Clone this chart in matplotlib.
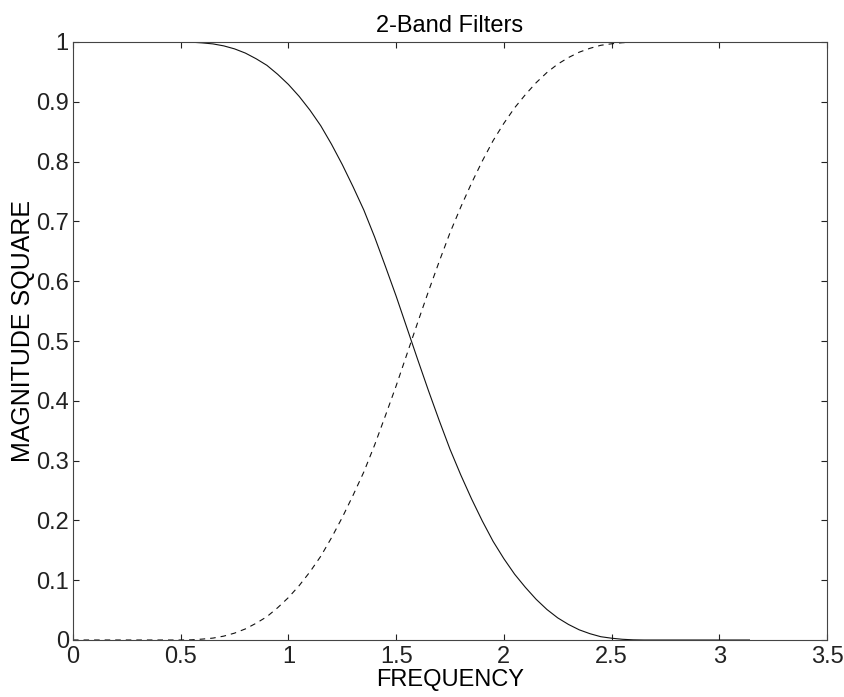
import matplotlib
matplotlib.use("Agg")
import matplotlib.pyplot as plt

plt.rcParams['font.family'] = ['Liberation Sans', 'DejaVu Sans']

# frequency samples (rad)
freq = [0.0, 0.50, 0.55, 0.60, 0.65, 0.70, 0.75, 0.80, 0.85, 0.90, 0.95,
        1.00, 1.05, 1.10, 1.15, 1.20, 1.25, 1.30, 1.35, 1.40, 1.45,
        1.50, 1.55, 1.60, 1.65, 1.70, 1.75, 1.80, 1.85, 1.90, 1.95,
        2.00, 2.05, 2.10, 2.15, 2.20, 2.25, 2.30, 2.35, 2.40, 2.45,
        2.50, 2.55, 2.60, 2.65, 3.14]

# lowpass band (solid)
low_band = [1.0, 1.0, 0.9997, 0.9985, 0.9968, 0.9935, 0.9885, 0.9815, 0.972, 0.961, 0.946,
            0.929, 0.909, 0.886, 0.860, 0.829, 0.795, 0.758, 0.719, 0.674, 0.625,
            0.575, 0.522, 0.469, 0.417, 0.367, 0.319, 0.276, 0.236, 0.199, 0.165,
            0.136, 0.110, 0.088, 0.068, 0.051, 0.037, 0.026, 0.017, 0.0105, 0.0055,
            0.003, 0.0012, 0.0003, 0.0, 0.0]

# highpass band (dashed)
high_band = [0.0, 0.0, 0.0003, 0.0015, 0.0032, 0.0065, 0.0115, 0.0185, 0.028, 0.039, 0.054,
             0.071, 0.091, 0.114, 0.140, 0.171, 0.205, 0.242, 0.281, 0.326, 0.375,
             0.425, 0.478, 0.531, 0.583, 0.633, 0.681, 0.724, 0.764, 0.801, 0.835,
             0.864, 0.890, 0.912, 0.932, 0.949, 0.963, 0.974, 0.983, 0.9895, 0.9945,
             0.997, 0.9988, 0.9997, 1.0, 1.0]

xticks = [0, 0.5, 1, 1.5, 2, 2.5, 3, 3.5]
xtick_labels = ['0', '0.5', '1', '1.5', '2', '2.5', '3', '3.5']
yticks = [0, 0.1, 0.2, 0.3, 0.4, 0.5, 0.6, 0.7, 0.8, 0.9, 1]
ytick_labels = ['0', '0.1', '0.2', '0.3', '0.4', '0.5', '0.6', '0.7', '0.8', '0.9', '1']

fig = plt.figure(figsize=(8.44, 6.97), dpi=100)
ax = fig.add_axes([73 / 844, 57 / 697, 754 / 844, 598 / 697])

ax.plot(freq, low_band, color='#111111', lw=0.8)
ax.plot(freq, high_band, color='#111111', lw=0.8, linestyle=(0, (5, 4.5)))

ax.set_xlim(0, 3.5)
ax.set_ylim(0, 1)
ax.set_xticks(xticks)
ax.set_xticklabels(xtick_labels)
ax.set_yticks(yticks)
ax.set_yticklabels(ytick_labels)
ax.tick_params(direction='in', length=4, width=0.8, top=True, right=True,
               labelsize=17, colors='#222222', pad=3)
ax.tick_params(axis='x', pad=4)
for sp in ax.spines.values():
    sp.set_linewidth(0.8)
    sp.set_color('#444444')

ax.set_title('2-Band Filters', fontsize=17, pad=7)
ax.set_xlabel('FREQUENCY', fontsize=17, labelpad=1)
ax.set_ylabel('MAGNITUDE SQUARE', fontsize=18)
# reference label sits a little above the middle
ax.yaxis.set_label_coords(-0.05, 0.517)

fig.savefig('out.png', dpi=100)
